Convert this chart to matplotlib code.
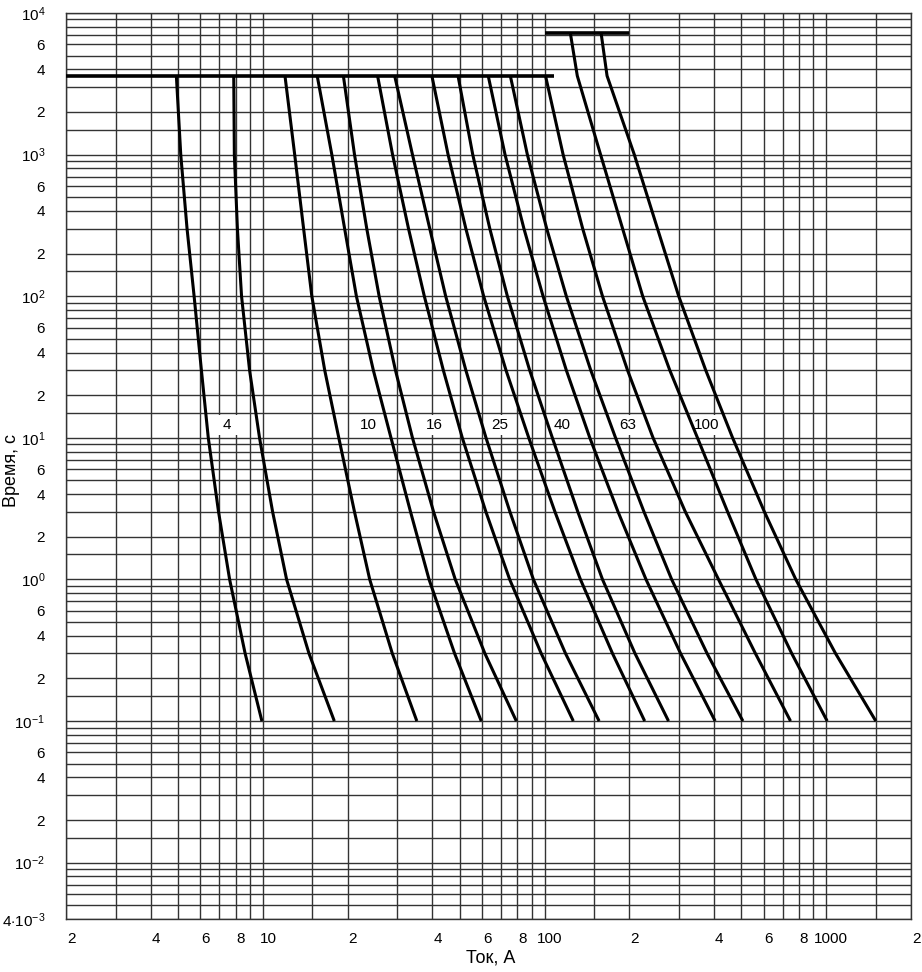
import matplotlib
matplotlib.use("Agg")
import matplotlib.pyplot as plt
from matplotlib.transforms import ScaledTranslation
from matplotlib.ticker import NullFormatter
from matplotlib.patches import Rectangle

#CONSTANTS
W, H, DPI = 922, 972, 100
GRID_COLOR = "#333333"
CURVE_LW = 2.2

plt.rcParams['font.family'] = ['Liberation Sans', 'DejaVu Sans']
plt.rcParams['mathtext.fontset'] = 'custom'
plt.rcParams['mathtext.rm'] = 'Liberation Sans'
plt.rcParams['mathtext.it'] = 'Liberation Sans'

#data: time points (s) and current (A) per curve
times_1h = [3600, 1000, 300, 100, 30, 10, 3, 1, 0.3, 0.1]
times_2h = [7200, 3600, 1000, 300, 100, 30, 10, 3, 1, 0.3, 0.1]

c1 = [4.93, 5.11, 5.38, 5.70, 6.05, 6.40, 6.96, 7.62, 8.65, 9.92]
c2 = [7.88, 7.92, 8.12, 8.40, 8.97, 9.73, 10.83, 12.14, 14.58, 17.93]
c3 = [11.98, 12.97, 13.95, 14.92, 16.58, 18.6, 21.15, 23.95, 28.81, 35.2]
c4 = [15.59, 17.57, 19.51, 21.48, 24.67, 28.5, 33.44, 38.9, 47.94, 59.6]
c5 = [19.31, 21.15, 23.38, 25.87, 29.56, 33.97, 40.37, 48.2, 61.41, 79.4]
c6 = [25.54, 28.87, 32.89, 37.43, 43.72, 51.05, 61.92, 75.2, 97.32, 126.5]
c7 = [29.37, 33.97, 39.13, 44.57, 52.56, 61.97, 75.37, 91.3, 118.7, 156.2]
c8 = [39.81, 45.45, 52.56, 60.8, 72.98, 87.9, 108.9, 134.1, 174.3, 226.7]
c9 = [49.3, 55.6, 63.93, 73.8, 88.55, 106.6, 131.3, 160.6, 209.5, 275.5]
c10 = [63.1, 72.4, 84.5, 98.8, 119.5, 144.8, 182.4, 229.2, 304.1, 403.3]
c11 = [75.6, 86.9, 101.8, 119.5, 145.9, 178.7, 225.5, 282.7, 377.7, 506.0]
c12 = [100.8, 116.4, 136.6, 160.6, 197.1, 242.8, 316.2, 414.6, 560.6, 746.9]
c13 = [123.5, 130.7, 158.1, 189.3, 223.1, 278.4, 349.1, 446.7, 563.2, 754.4, 1008.0]
c14 = [158.8, 166.7, 208.3, 251.8, 299.5, 373.5, 465.2, 603.5, 779.8, 1079.3, 1500.0]

curves_1h = [c1, c2, c3, c4, c5, c6, c7, c8, c9, c10, c11, c12]
curves_2h = [c13, c14]

#conventional time lines (1 h and 2 h)
line_1h = ([2, 108], [3600, 3600])
line_2h = ([100, 200], [7200, 7200])

ratings = ["4", "10", "16", "25", "40", "63", "100"]
rating_x = [7.45, 23.6, 40.5, 69.5, 115.3, 197.7, 377.2]
rating_t = 12.3

#ticks
x_ticks = [2, 4, 6, 8, 10, 20, 40, 60, 80, 100, 200, 400, 600, 800, 1000, 2000]
x_labels = ["2", "4", "6", "8", "10", "2", "4", "6", "8", "100",
            "2", "4", "6", "8", "1000", "2"]
y_ticks = [4e-3, 1e-2, 2e-2, 4e-2, 6e-2, 1e-1, 2e-1, 4e-1, 6e-1, 1, 2, 4, 6,
           10, 20, 40, 60, 100, 200, 400, 600, 1000, 2000, 4000, 6000, 10000]
y_labels = [r"$4{\cdot}10^{-3}$", r"$10^{-2}$", "2", "4", "6", r"$10^{-1}$",
            "2", "4", "6", r"$10^{0}$", "2", "4", "6", r"$10^{1}$", "2", "4",
            "6", r"$10^{2}$", "2", "4", "6", r"$10^{3}$", "2", "4", "6",
            r"$10^{4}$"]

#grid: 1, 1.5, 2 ... 9 in every decade
mults = [1, 1.5, 2, 3, 4, 5, 6, 7, 8, 9]
x_grid = [m * 10 ** d for d in range(0, 4) for m in mults]
x_grid = [v for v in x_grid if 2 <= v <= 2000]
y_grid = [m * 10 ** d for d in range(-3, 5) for m in mults]
y_grid = [v for v in y_grid if 4e-3 <= v <= 1e4]

fig = plt.figure(figsize=(W / DPI, H / DPI), dpi=DPI)
ax = fig.add_axes([66 / W, 1 - 919 / H, (911 - 66) / W, (919 - 13) / H])
ax.set_xscale("log")
ax.set_yscale("log")
ax.set_xlim(2, 2000)
ax.set_ylim(4e-3, 1e4)

ax.set_xticks(x_ticks)
ax.set_xticklabels(x_labels)
ax.set_xticks(x_grid, minor=True)
ax.set_yticks(y_ticks)
ax.set_yticklabels(y_labels)
ax.set_yticks(y_grid, minor=True)
ax.xaxis.set_minor_formatter(NullFormatter())
ax.yaxis.set_minor_formatter(NullFormatter())
ax.tick_params(which="both", length=0)
ax.tick_params(axis="x", pad=9, labelsize=11)
ax.tick_params(axis="y", pad=15, labelsize=11)

for v in x_grid:
    ax.axvline(v, color=GRID_COLOR, lw=1.0, zorder=1)
for v in y_grid:
    ax.axhline(v, color=GRID_COLOR, lw=1.0, zorder=1)
for s in ax.spines.values():
    s.set_color(GRID_COLOR)
    s.set_linewidth(1.0)

#shift x tick labels slightly right like the original
offset = ScaledTranslation(5 / DPI, 0, fig.dpi_scale_trans)
for lab in ax.get_xticklabels():
    lab.set_transform(lab.get_transform() + offset)

#curves
for c in curves_1h:
    ax.plot(c, times_1h, color="black", lw=CURVE_LW, zorder=3,
            solid_capstyle="butt", solid_joinstyle="round")
for c in curves_2h:
    ax.plot(c, times_2h, color="black", lw=CURVE_LW, zorder=3,
            solid_capstyle="butt", solid_joinstyle="round")
ax.plot(*line_1h, color="black", lw=CURVE_LW + 0.4, zorder=3, solid_capstyle="butt")
ax.plot(*line_2h, color="black", lw=CURVE_LW + 0.4, zorder=3, solid_capstyle="butt")

#rating labels on white patches (cover the grid between 15 s and 10 s lines)
for r, xv in zip(ratings, rating_x):
    k = 1.085 + 0.022 * len(r)
    ax.add_patch(Rectangle((xv / k, 10.45), xv * k - xv / k, 14.4 - 10.45,
                           facecolor="white", edgecolor="none", zorder=2))
    ax.text(xv, rating_t, r, ha="center", va="center", fontsize=11, zorder=2.5)

fig.text(12 / W, 1 - 470 / H, "Время, с", rotation=90, ha="center",
         va="center", fontsize=13)
fig.text(491 / W, 1 - 958 / H, "Ток, А", ha="center", va="center", fontsize=13)

fig.savefig("out.png", dpi=DPI)
